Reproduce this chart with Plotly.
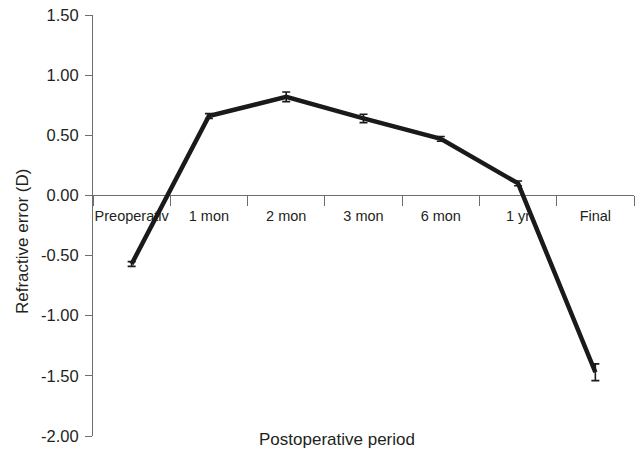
import plotly.graph_objects as go

categories = ["Preoperativ", "1 mon", "2 mon", "3 mon", "6 mon", "1 yr", "Final"]
values = [-0.57, 0.66, 0.82, 0.64, 0.47, 0.10, -1.47]
errors = [0.02, 0.02, 0.04, 0.035, 0.02, 0.02, 0.07]
y_ticks = [1.5, 1.0, 0.5, 0.0, -0.5, -1.0, -1.5, -2.0]
y_tick_labels = ["1.50", "1.00", "0.50", "0.00", "-0.50", "-1.00", "-1.50", "-2.00"]

y_min, y_max = -2.0, 1.5
font_family = "Liberation Sans, Arial, sans-serif"
text_color = "#231f20"
axis_color = "#6d6d6d"

fig_w, fig_h = 636, 452
m_l, m_r, m_t, m_b = 93, 2, 15, 16
plot_w = fig_w - m_l - m_r
plot_h = fig_h - m_t - m_b

fig = go.Figure()
fig.add_trace(go.Scatter(
    x=categories,
    y=values,
    mode="lines",
    line=dict(color="#1a1a1a", width=4.5),
    error_y=dict(type="data", array=errors, visible=True,
                 color="#1a1a1a", thickness=1.6, width=4),
    showlegend=False,
    cliponaxis=False,
))

fig.update_layout(
    width=fig_w, height=fig_h,
    margin=dict(l=m_l, r=m_r, t=m_t, b=m_b, autoexpand=False),
    paper_bgcolor="white", plot_bgcolor="white",
    font=dict(family=font_family, color=text_color),
    xaxis=dict(
        type="category",
        categoryorder="array", categoryarray=categories,
        range=[-0.5, 6.5],
        anchor="free", position=(0 - y_min) / (y_max - y_min),
        automargin=False,
        showline=True, linecolor=axis_color, linewidth=1,
        showgrid=False, zeroline=False,
        ticks="outside", tickson="boundaries", ticklen=10,
        tickcolor=axis_color, tickwidth=1, tickangle=0,
        ticklabelstandoff=7,
        tickfont=dict(size=14.5, color=text_color),
        layer="below traces",
    ),
    yaxis=dict(
        range=[y_min, y_max],
        automargin=False,
        tickvals=y_ticks, ticktext=y_tick_labels,
        showline=True, linecolor=axis_color, linewidth=1,
        showgrid=False, zeroline=False,
        ticks="outside", ticklen=7, tickcolor=axis_color, tickwidth=1,
        ticklabelstandoff=3, ticklabeloverflow="allow",
        tickfont=dict(size=16.5, color=text_color),
        layer="below traces",
    ),
    annotations=[
        dict(text="Postoperative period", xref="paper", yref="paper",
             x=(337 - 93) / plot_w, y=(436 - 439) / plot_h,
             xanchor="center", yanchor="middle", showarrow=False,
             font=dict(size=17, color=text_color)),
        dict(text="Refractive error (D)", xref="paper", yref="paper",
             x=(22 - 93) / plot_w, y=(436 - 242) / plot_h, textangle=-90,
             xanchor="center", yanchor="middle", showarrow=False,
             font=dict(size=17, color=text_color)),
    ],
)

fig.write_html(
    "out.html",
    config={"displayModeBar": False, "staticPlot": True},
    post_script="document.body.style.margin='0';document.body.style.padding='0';",
)
